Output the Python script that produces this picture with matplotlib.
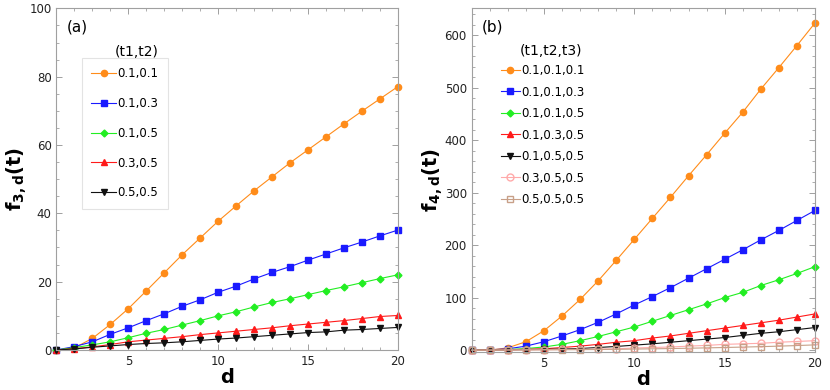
import matplotlib
matplotlib.use("Agg")
import matplotlib.pyplot as plt
from matplotlib.ticker import MultipleLocator

d = list(range(1, 21))

# panel (a): f_{3,d}(t) for (t1,t2)
labels_a = ["0.1,0.1", "0.1,0.3", "0.1,0.5", "0.3,0.5", "0.5,0.5"]
f3_a = [0, 0.6, 3.4, 7.5, 12.1, 17.3, 22.6, 27.9, 32.8, 37.7, 42.2, 46.6, 50.7, 54.8, 58.6, 62.4, 66.2, 69.9, 73.5, 77.1]
f3_b = [0, 1.0, 2.4, 4.6, 6.5, 8.6, 10.6, 12.8, 14.7, 16.9, 18.7, 20.8, 22.7, 24.4, 26.3, 28.1, 29.9, 31.6, 33.4, 35.1]
f3_c = [0, 0.7, 1.5, 2.4, 3.6, 4.9, 6.0, 7.3, 8.6, 10.0, 11.2, 12.6, 13.9, 15.0, 16.2, 17.4, 18.5, 19.7, 20.9, 22.0]
f3_d = [0, 0.4, 0.9, 1.6, 2.4, 2.9, 3.4, 3.9, 4.5, 5.0, 5.5, 6.0, 6.5, 7.1, 7.6, 8.1, 8.6, 9.2, 9.8, 10.1]
f3_e = [0, 0.3, 0.8, 1.2, 1.6, 1.9, 2.1, 2.4, 2.8, 3.2, 3.5, 3.9, 4.3, 4.7, 5.1, 5.3, 5.8, 6.0, 6.3, 6.6]

# panel (b): f_{4,d}(t) for (t1,t2,t3)
labels_b = ["0.1,0.1,0.1", "0.1,0.1,0.3", "0.1,0.1,0.5", "0.1,0.3,0.5",
            "0.1,0.5,0.5", "0.3,0.5,0.5", "0.5,0.5,0.5"]
f4_a = [0, 0, 4.4, 16, 37, 65, 96.5, 132, 171, 211, 251, 291, 332, 372, 413, 453, 497, 538, 580, 623]
f4_b = [0, 0.5, 2.5, 7.6, 16, 27, 39, 53, 69, 86, 102, 119, 137, 155, 173, 191, 210, 228, 247, 266]
f4_c = [0, 0.3, 1, 3, 6, 11, 18, 26, 35, 44, 55, 66, 77, 88, 100, 110, 123, 134, 146, 159]
f4_d = [0, 0.2, 0.8, 1.5, 2.5, 5, 7.6, 11, 15, 18, 23, 27, 32, 37, 42, 47, 52, 57, 63, 69]
f4_e = [0, 0.1, 0.5, 1, 1.5, 2, 3, 5, 7, 9.5, 12, 15, 18, 21, 24, 28, 32, 35, 39, 43]
f4_f = [0, 0.1, 0.3, 0.5, 0.8, 1.2, 1.6, 2, 2.5, 4, 5, 6, 7.6, 9, 11, 12, 13, 15, 16.5, 18]
f4_g = [0, 0.05, 0.2, 0.35, 0.5, 0.7, 0.9, 1.2, 1.5, 2, 2.5, 3, 3.6, 4.3, 5, 5.8, 6.6, 7.6, 8.7, 10]

styles = [
    dict(color="#ff8c1a", marker="o", ms=4.5),
    dict(color="#1a1aff", marker="s", ms=4),
    dict(color="#22ee22", marker="D", ms=3.5),
    dict(color="#ff1a1a", marker="^", ms=4.5),
    dict(color="#111111", marker="v", ms=4.5),
    dict(color="#ffaaaa", marker="o", ms=5, mfc="none"),
    dict(color="#c8a088", marker="s", ms=4.5, mfc="none"),
]

frame_col = "#a0a0a0"


def style_axes(ax):
    for s in ax.spines.values():
        s.set_color(frame_col)
        s.set_linewidth(0.8)
    ax.tick_params(which="both", direction="in", top=True, right=True,
                   color=frame_col, labelsize=8.5, labelcolor="#222222")
    ax.tick_params(which="major", length=4, width=0.7)
    ax.tick_params(which="minor", length=2, width=0.6)
    ax.xaxis.set_major_locator(MultipleLocator(5))
    ax.xaxis.set_minor_locator(MultipleLocator(1))
    ax.set_xlabel("d", fontsize=14, fontweight="bold", labelpad=0)


fig = plt.figure(figsize=(8.3, 3.9), dpi=100)
ax1 = fig.add_axes([0.068, 0.1026, 0.4114, 0.876])
ax2 = fig.add_axes([0.5683, 0.0982, 0.4136, 0.8805])

series_a = [f3_a, f3_b, f3_c, f3_d, f3_e]
for ys, lab, st in zip(series_a, labels_a, styles):
    st = dict(st)
    c = st.pop("color")
    ax1.plot(d, ys, color=c, lw=0.8, mec=c, mfc=st.pop("mfc", c), label=lab,
             clip_on=False, **st)
ax1.set_xlim(1, 20)
ax1.set_ylim(0, 100)
ax1.yaxis.set_major_locator(MultipleLocator(20))
ax1.yaxis.set_minor_locator(MultipleLocator(5))
style_axes(ax1)
ax1.set_ylabel(r"$\mathbf{f_{3,d}(t)}$", fontsize=14, labelpad=0)
ax1.text(0.03, 0.968, "(a)", transform=ax1.transAxes, fontsize=11, va="top")
leg1 = ax1.legend(loc="upper left", bbox_to_anchor=(0.075, 0.855), fontsize=8.5,
                  frameon=True, fancybox=False, labelspacing=1.42,
                  handlelength=2.1, handletextpad=0.1, borderpad=0.8,
                  borderaxespad=0)
leg1.get_frame().set_edgecolor("#dddddd")
leg1.get_frame().set_linewidth(0.8)
ax1.text(0.17, 0.871, "(t1,t2)", transform=ax1.transAxes, fontsize=10,
         va="center")

series_b = [f4_a, f4_b, f4_c, f4_d, f4_e, f4_f, f4_g]
for ys, lab, st in zip(series_b, labels_b, styles):
    st = dict(st)
    c = st.pop("color")
    ax2.plot(d, ys, color=c, lw=0.8, mec=c, mfc=st.pop("mfc", c), label=lab,
             clip_on=False, **st)
ax2.set_xlim(1, 20)
ax2.set_ylim(-3, 651)
ax2.yaxis.set_major_locator(MultipleLocator(100))
ax2.yaxis.set_minor_locator(MultipleLocator(20))
style_axes(ax2)
ax2.set_ylabel(r"$\mathbf{f_{4,d}(t)}$", fontsize=14, labelpad=0)
ax2.text(0.03, 0.968, "(b)", transform=ax2.transAxes, fontsize=11, va="top")
leg2 = ax2.legend(loc="upper left", bbox_to_anchor=(0.075, 0.848), fontsize=8.5,
                  frameon=False, labelspacing=0.72, handlelength=1.6,
                  handletextpad=0.1, borderpad=0.3, borderaxespad=0)
ax2.text(0.14, 0.876, "(t1,t2,t3)", transform=ax2.transAxes, fontsize=10,
         va="center")

fig.savefig("out.png", dpi=100)
